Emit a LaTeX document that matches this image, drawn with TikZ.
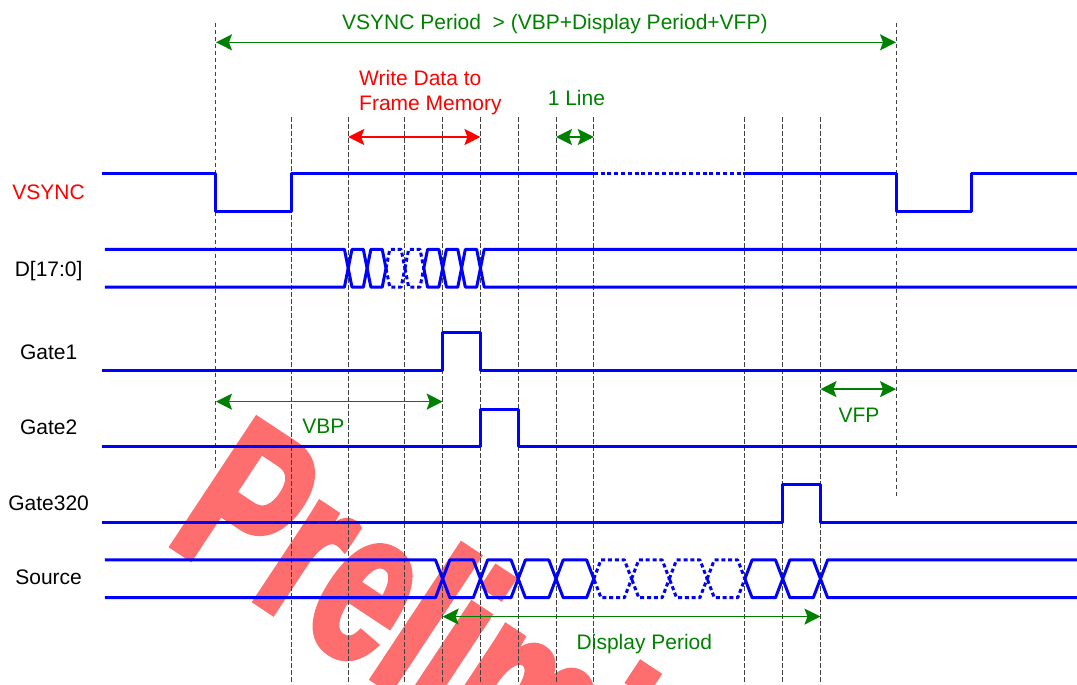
\documentclass[tikz,border=0pt]{standalone}
\usepackage{fontspec}
\setmainfont{Liberation Sans}
\newfontfamily\wmfont{Liberation Sans}[FakeStretch=0.67, FakeBold=2.7]
\usepackage{tikz}
\usetikzlibrary{arrows.meta}
\definecolor{sigblue}{RGB}{0,0,255}
\definecolor{dimgreen}{RGB}{0,128,0}
\definecolor{wmred}{RGB}{255,110,110}

\begin{document}
\begin{tikzpicture}[x=18.89pt, y=18.89pt,
  font=\fontsize{10.5}{12.5}\selectfont,
  sig/.style={draw=sigblue, line width=1.5pt, line join=round},
  sigdot/.style={sig, dash pattern=on 2pt off 1.4pt},
  guide/.style={draw=black!75, line width=0.5pt, dash pattern=on 2.2pt off 1.3pt},
  dimarr/.style={{Stealth[length=8pt,width=8pt,inset=1.5pt]}-{Stealth[length=8pt,width=8pt,inset=1.5pt]},
                 line width=0.8pt, color=dimgreen},
  wrarr/.style={dimarr, color=red},
  siglbl/.style={anchor=base, inner sep=0pt},
  dimlbl/.style={anchor=base, inner sep=0pt, text=dimgreen},
  wmark/.style={anchor=base west, inner sep=0pt, rotate=-33.5, text=wmred,
                font=\wmfont\bfseries\fontsize{111}{111}\selectfont},
]
  \useasboundingbox (-5.717,0) rectangle (22.79,-18.105);

  % watermark
  \begin{scope}
    \clip (-5.717,0) rectangle (22.79,-18.105);
    \node[wmark] (wm) at (-1.374,-14.31) {Preliminary};
  \end{scope}

  % guides
  \draw[guide] (0,-0.6) -- (0,-12.41);
  \draw[guide] (18,-0.6) -- (18,-13.13);
  \foreach \t in {2,3.5,5,6,7,8,9,10,14,15,16}
    \draw[guide] (\t,-3.1) -- (\t,-18.105);

  % VSYNC
  \draw[sig] (-3.03,-4.6) -- (0,-4.6) -- (0,-5.6) -- (2,-5.6) -- (2,-4.6) -- (10,-4.6);
  \draw[sigdot] (10,-4.6) -- (14,-4.6);
  \draw[sig] (14,-4.6) -- (18,-4.6) -- (18,-5.6) -- (20,-5.6) -- (20,-4.6) -- (22.79,-4.6);

  % D[17:0]
  \draw[sig] (-2.94,-6.6) -- (3.4,-6.6) -- (3.5,-7.1) -- (3.4,-7.6) -- (-2.94,-7.6);
  \foreach \a in {3.5,4,5.5,6,6.5}
    \draw[sig] (\a,-7.1) -- (\a+0.1,-6.6) -- (\a+0.4,-6.6) -- (\a+0.5,-7.1)
      -- (\a+0.4,-7.6) -- (\a+0.1,-7.6) -- cycle;
  \foreach \a in {4.5,5}
    \draw[sigdot] (\a,-7.1) -- (\a+0.1,-6.6) -- (\a+0.4,-6.6) -- (\a+0.5,-7.1)
      -- (\a+0.4,-7.6) -- (\a+0.1,-7.6) -- cycle;
  \draw[sig] (22.79,-6.6) -- (7.1,-6.6) -- (7,-7.1) -- (7.1,-7.6) -- (22.79,-7.6);

  % gates
  \draw[sig] (-3.03,-9.8) -- (6,-9.8) -- (6,-8.8) -- (7,-8.8) -- (7,-9.8) -- (22.79,-9.8);
  \draw[sig] (-3.03,-11.83) -- (7,-11.83) -- (7,-10.83) -- (8,-10.83) -- (8,-11.83) -- (22.79,-11.83);
  \draw[sig] (-3.03,-13.82) -- (15,-13.82) -- (15,-12.82) -- (16,-12.82) -- (16,-13.82) -- (22.79,-13.82);

  % Source
  \draw[sig] (-2.94,-14.82) -- (5.81,-14.82) -- (6,-15.32) -- (5.81,-15.82) -- (-2.94,-15.82);
  \foreach \a in {6,7,8,9,14,15}
    \draw[sig] (\a,-15.32) -- (\a+0.19,-14.82) -- (\a+0.81,-14.82) -- (\a+1,-15.32)
      -- (\a+0.81,-15.82) -- (\a+0.19,-15.82) -- cycle;
  \foreach \a in {10,11,12,13}
    \draw[sigdot] (\a,-15.32) -- (\a+0.19,-14.82) -- (\a+0.81,-14.82) -- (\a+1,-15.32)
      -- (\a+0.81,-15.82) -- (\a+0.19,-15.82) -- cycle;
  \draw[sig] (22.79,-14.82) -- (16.19,-14.82) -- (16,-15.32) -- (16.19,-15.82) -- (22.79,-15.82);

  % signal names
  \node[siglbl, text=red] (vsynclbl) at (-4.43,-5.29) {VSYNC};
  \node[siglbl] (datalbl) at (-4.43,-7.32) {D[17:0]};
  \node[siglbl] (gate1lbl) at (-4.43,-9.51) {Gate1};
  \node[siglbl] (gate2lbl) at (-4.43,-11.5) {Gate2};
  \node[siglbl] (gate320lbl) at (-4.43,-13.52) {Gate320};
  \node[siglbl] (sourcelbl) at (-4.43,-15.48) {Source};

  % periods
  \coordinate (vp-l) at (0,-1.12);
  \coordinate (vp-r) at (18,-1.12);
  \draw[dimarr] (vp-l) -- (vp-r);
  \node[dimlbl] (vplbl) at (8.97,-0.776) {VSYNC Period\ \ > (VBP+Display Period+VFP)};

  \coordinate (wr-l) at (3.5,-3.626);
  \coordinate (wr-r) at (7,-3.626);
  \draw[wrarr] (wr-l) -- (wr-r);
  \node[text=red, align=left, anchor=west, inner sep=0pt] (wrlbl) at (3.78,-2.44) {Write Data to\\Frame Memory};

  \coordinate (ln-l) at (9,-3.626);
  \coordinate (ln-r) at (10,-3.626);
  \draw[dimarr] (ln-l) -- (ln-r);
  \node[dimlbl] (lnlbl) at (9.54,-2.78) {1 Line};

  \coordinate (vbp-l) at (0,-10.63);
  \coordinate (vbp-r) at (6,-10.63);
  \draw[dimarr] (vbp-l) -- (vbp-r);
  \node[dimlbl] (vbplbl) at (2.84,-11.47) {VBP};

  \coordinate (vfp-l) at (16,-10.3);
  \coordinate (vfp-r) at (18,-10.3);
  \draw[dimarr] (vfp-l) -- (vfp-r);
  \node[dimlbl] (vfplbl) at (17.02,-11.19) {VFP};

  \coordinate (dp-l) at (6,-16.32);
  \coordinate (dp-r) at (16,-16.32);
  \draw[dimarr] (dp-l) -- (dp-r);
  \node[dimlbl] (dplbl) at (11.34,-17.18) {Display Period};
\end{tikzpicture}
\end{document}
